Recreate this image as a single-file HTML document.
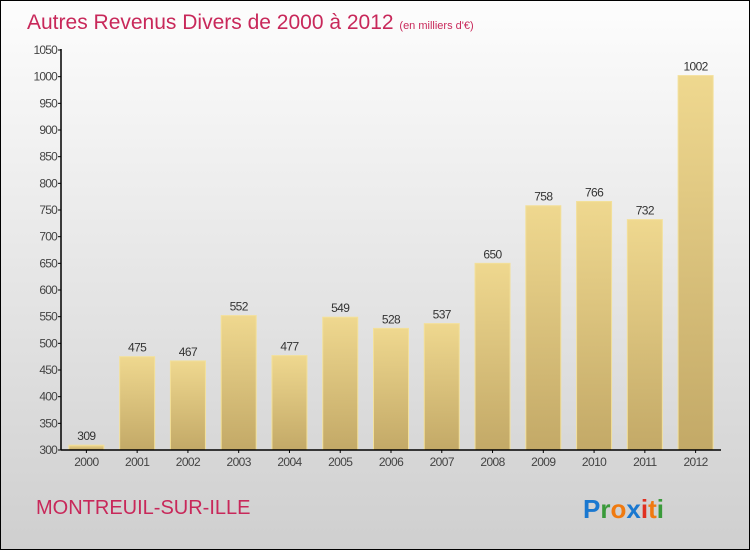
<!DOCTYPE html>
<html><head><meta charset="utf-8"><style>
body{margin:0}
#c{width:748px;height:548px;border:1px solid #000;position:relative;background:linear-gradient(#fdfdfd,#cfcfcf);font-family:"Liberation Sans",sans-serif;overflow:hidden}
</style></head><body>
<div id="c">
<svg width="748" height="548" id="svg">
<defs><linearGradient id="bg" x1="0" y1="0" x2="0" y2="1"><stop offset="0" stop-color="#efd88f"/><stop offset="1" stop-color="#c3a967"/></linearGradient></defs>
<text x="26" y="28" font-size="21" fill="#c8285a">Autres Revenus Divers de 2000 à 2012 <tspan font-size="11">(en milliers d'€)</tspan></text>
<g id="g"></g>
<text x="35" y="513" font-size="20" fill="#c8285a">MONTREUIL-SUR-ILLE</text>
<text x="582" y="517" font-size="26" font-weight="bold"><tspan fill="#1a78d0">P</tspan><tspan fill="#3a9a3a">r</tspan><tspan fill="#f07a10">o</tspan><tspan fill="#1a78d0">x</tspan><tspan fill="#e03020">i</tspan><tspan fill="#f07a10">t</tspan><tspan fill="#3a9a3a">i</tspan></text>
</svg></div>
<script>
const years=["2000","2001","2002","2003","2004","2005","2006","2007","2008","2009","2010","2011","2012"];
const values=[309,475,467,552,477,549,528,537,650,758,766,732,1002];
const ticks=[300,350,400,450,500,550,600,650,700,750,800,850,900,950,1000,1050];
const NS="http://www.w3.org/2000/svg",g=document.getElementById("g");
const x0=60,x1=720,yb=449,yt=49;
const y=v=>yb-(v-300)/750*(yb-yt);
const bw=(x1-x0)/years.length;
function el(t,a,txt){const e=document.createElementNS(NS,t);for(const k in a)e.setAttribute(k,a[k]);if(txt!=null)e.textContent=txt;g.appendChild(e);return e;}
ticks.forEach(t=>{
 const l=el("line",{x1:x0-3,x2:x0,y1:y(t),y2:y(t),stroke:"#000"});
 
 
 const s=el("text",{x:x0-4,y:y(t)+4,"font-size":12,"text-anchor":"end",fill:"#444","letter-spacing":"-0.8"},t);
 
 
});
years.forEach((yr,i)=>{
 const cx=x0+bw*(i+0.5),v=values[i];
 const r=el("rect",{x:cx-17.5,y:y(v),width:35,height:yb-y(v),fill:"url(#bg)",stroke:"#f3e09a","stroke-width":1});
 
 
 const vt=el("text",{x:cx,y:y(v)-5,"font-size":12,"text-anchor":"middle",fill:"#333","letter-spacing":"-0.6"},v);
 
 
 const tk=el("line",{x1:cx,x2:cx,y1:yb,y2:yb+3,stroke:"#000"});
 
 
 const xt=el("text",{x:cx,y:yb+16,"font-size":12,"text-anchor":"middle",fill:"#444","letter-spacing":"-0.6"},yr);
 
 
});
const ya=el("line",{x1:x0,x2:x0,y1:yt-1,y2:yb,stroke:"#000","stroke-width":1.5});


const xa=el("line",{x1:x0,x2:x1,y1:yb,y2:yb,stroke:"#000","stroke-width":1.5});


</script>
</body></html>
